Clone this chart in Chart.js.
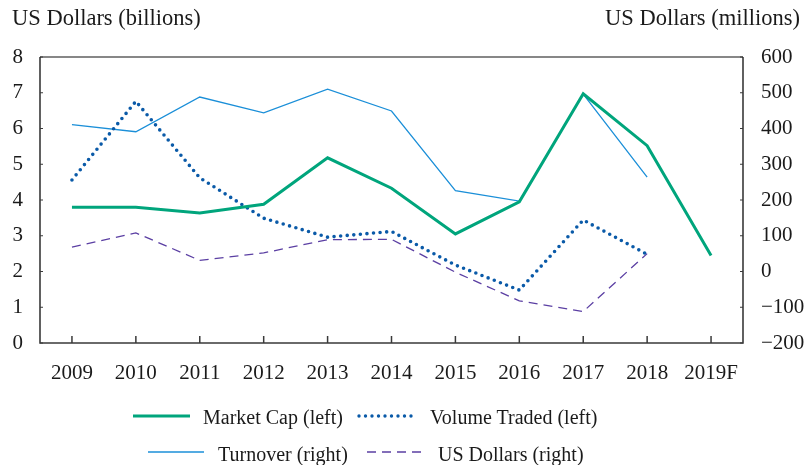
<!DOCTYPE html>
<html>
<head>
<meta charset="utf-8">
<script src="https://cdn.jsdelivr.net/npm/chart.js@4/dist/chart.umd.min.js"></script>
<style>
  html, body { margin: 0; padding: 0; background: #fff; }
  #wrap { position: relative; width: 805px; height: 465px; overflow: hidden; font-family: 'Liberation Serif', serif; color: #1a1a1a; }
  #c { position: absolute; left: 0; top: 0; }
  .ttl { position: absolute; top: 5px; font-size: 22.5px; white-space: nowrap; }
  .leg { position: absolute; font-size: 20px; white-space: nowrap; line-height: 1; }
  .sw { position: absolute; }
</style>
</head>
<body>
<div id="wrap">
  <canvas id="c" width="805" height="465"></canvas>
  <div class="ttl" style="left:12px;">US Dollars (billions)</div>
  <div class="ttl" style="right:5px;">US Dollars (millions)</div>
  <svg class="sw" style="left:0;top:0" width="805" height="465">
    <line x1="133" y1="416" x2="190" y2="416" stroke="#00a57c" stroke-width="3"/>
    <line x1="359" y1="416" x2="414" y2="416" stroke="#0a5aa8" stroke-width="3.4" stroke-dasharray="0 6.5" stroke-linecap="round"/>
    <line x1="148" y1="452" x2="204" y2="452" stroke="#1b8fd8" stroke-width="1.3"/>
    <line x1="367" y1="452" x2="423" y2="452" stroke="#5b3fa3" stroke-width="1.3" stroke-dasharray="9 6"/>
  </svg>
  <div class="leg" style="left:203px;top:407px;">Market Cap (left)</div>
  <div class="leg" style="left:430px;top:407px;">Volume Traded (left)</div>
  <div class="leg" style="left:218px;top:444px;">Turnover (right)</div>
  <div class="leg" style="left:438px;top:444px;">US Dollars (right)</div>
</div>
<script>
const categories = ['2009','2010','2011','2012','2013','2014','2015','2016','2017','2018','2019F'];
const marketCap = [3.80, 3.80, 3.64, 3.88, 5.18, 4.33, 3.05, 3.95, 6.97, 5.52, 2.45];
const volumeTraded = [4.56, 6.76, 4.62, 3.49, 2.96, 3.12, 2.18, 1.48, 3.44, 2.48, null];
const turnover = [411, 391, 488, 444, 510, 449, 226, 197, 496, 264, null];
const usDollars = [68, 108, 31, 52, 89, 90, -2, -82, -112, 50, null];
const leftTicks = [0, 1, 2, 3, 4, 5, 6, 7, 8];
const rightTicks = [-200, -100, 0, 100, 200, 300, 400, 500, 600];

const FONT = { family: "'Liberation Serif', serif", size: 21 };
const AXIS = '#3a3a3a';

const framePlugin = {
  id: 'frame',
  afterDraw(chart) {
    const { ctx, chartArea: a, scales } = chart;
    ctx.save();
    ctx.strokeStyle = AXIS;
    ctx.lineWidth = 1.6;
    ctx.beginPath();
    ctx.moveTo(a.left, a.top); ctx.lineTo(a.left, a.bottom);
    ctx.lineTo(a.right, a.bottom); ctx.lineTo(a.right, a.top);
    ctx.stroke();
    ctx.strokeStyle = '#111';
    ctx.lineWidth = 1.2;
    ctx.beginPath(); ctx.moveTo(a.left, a.top); ctx.lineTo(a.right, a.top); ctx.stroke();
    ctx.strokeStyle = AXIS;
    ctx.lineWidth = 1.5;
    ctx.beginPath();
    scales.x.ticks.forEach((t, i) => {
      const x = scales.x.getPixelForTick(i);
      ctx.moveTo(x, a.bottom); ctx.lineTo(x, a.bottom - 7);
    });
    ctx.stroke();
    ctx.lineWidth = 1;
    ctx.beginPath();
    scales.yL.ticks.forEach(t => {
      const y = scales.yL.getPixelForValue(t.value);
      ctx.moveTo(a.left, y); ctx.lineTo(a.left + 3, y);
    });
    scales.yR.ticks.forEach(t => {
      const y = scales.yR.getPixelForValue(t.value);
      ctx.moveTo(a.right, y); ctx.lineTo(a.right - 3, y);
    });
    ctx.stroke();
    ctx.restore();
  }
};

new Chart(document.getElementById('c'), {
  type: 'line',
  data: {
    labels: categories,
    datasets: [
      { label: 'US Dollars (right)', data: usDollars, yAxisID: 'yR', borderColor: '#5b3fa3', borderWidth: 1.3, borderDash: [9, 6], pointRadius: 0, tension: 0, order: 4 },
      { label: 'Turnover (right)', data: turnover, yAxisID: 'yR', borderColor: '#1b8fd8', borderWidth: 1.3, pointRadius: 0, tension: 0, order: 3 },
      { label: 'Volume Traded (left)', data: volumeTraded, yAxisID: 'yL', borderColor: '#0a5aa8', borderWidth: 3.6, borderDash: [0, 6.6], borderCapStyle: 'round', pointRadius: 0, tension: 0, order: 2 },
      { label: 'Market Cap (left)', data: marketCap, yAxisID: 'yL', borderColor: '#00a57c', borderWidth: 3, pointRadius: 0, tension: 0, order: 1 }
    ]
  },
  options: {
    responsive: false,
    animation: false,
    events: [],
    layout: { padding: { top: 57, left: 0, right: 0, bottom: 0 } },
    plugins: { legend: { display: false }, tooltip: { enabled: false }, title: { display: false } },
    scales: {
      x: {
        offset: true,
        grid: { display: false, drawTicks: false },
        border: { display: false },
        ticks: { color: '#1a1a1a', font: FONT, padding: 18, maxRotation: 0, autoSkip: false },
        afterFit(s) { s.height = 122; }
      },
      yL: {
        position: 'left',
        min: 0, max: 8,
        afterBuildTicks(s) { s.ticks = leftTicks.map(v => ({ value: v })); },
        grid: { display: false, drawTicks: false },
        border: { display: false },
        ticks: { color: '#1a1a1a', font: FONT, padding: 17 },
        afterFit(s) { s.width = 40; }
      },
      yR: {
        position: 'right',
        min: -200, max: 600,
        afterBuildTicks(s) { s.ticks = rightTicks.map(v => ({ value: v })); },
        grid: { display: false, drawTicks: false },
        border: { display: false },
        ticks: { color: '#1a1a1a', font: FONT, padding: 18, callback: v => String(v).replace('-', '\u2212') },
        afterFit(s) { s.width = 62; }
      }
    }
  },
  plugins: [framePlugin]
});
</script>
</body>
</html>
